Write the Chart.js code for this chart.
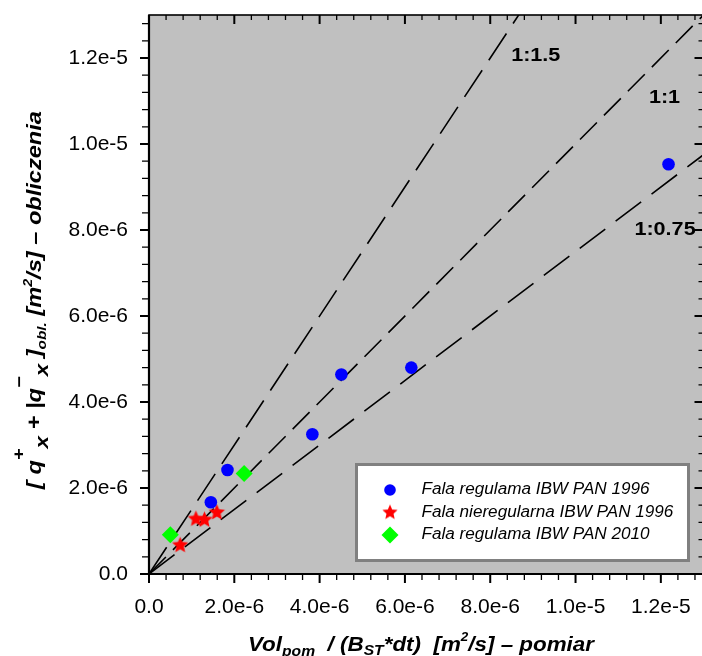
<!DOCTYPE html>
<html><head><meta charset="utf-8">
<script src="https://cdn.jsdelivr.net/npm/chart.js@4/dist/chart.umd.min.js"></script>
<style>
html,body{margin:0;padding:0;background:#fff;overflow:hidden;width:702px;height:656px;}
#wrap{position:absolute;left:0;top:0;width:712px;height:656px;}
canvas{display:block;}
</style></head><body>
<div id="wrap"><canvas id="c" width="712" height="656"></canvas></div>
<script>
// ---------- data ----------
const xTickLabels = ['0.0','2.0e-6','4.0e-6','6.0e-6','8.0e-6','1.0e-5','1.2e-5'];
const yTickLabels = ['0.0','2.0e-6','4.0e-6','6.0e-6','8.0e-6','1.0e-5','1.2e-5'];
const seriesNames = ['Fala regulama IBW PAN 1996','Fala nieregularna IBW PAN 1996','Fala regulama IBW PAN 2010'];
const regular1996X = [1.45e-6, 1.84e-6, 3.83e-6, 4.51e-6, 6.15e-6, 1.218e-5];
const regular1996Y = [1.67e-6, 2.42e-6, 3.25e-6, 4.64e-6, 4.80e-6, 9.53e-6];
const irregular1996X = [0.73e-6, 1.10e-6, 1.30e-6, 1.59e-6];
const irregular1996Y = [0.67e-6, 1.28e-6, 1.26e-6, 1.43e-6];
const regular2010X = [0.50e-6, 2.23e-6];
const regular2010Y = [0.91e-6, 2.34e-6];
const refLineNames = ['1:1.5','1:1','1:0.75'];
const refLineEndX = [1.3e-5, 1.3e-5, 1.3e-5];
const refLineEndY = [1.95e-5, 1.3e-5, 0.975e-5];
const refLabelX = [8.49e-6, 11.72e-6, 11.38e-6];
const refLabelY = [11.93e-6, 10.96e-6, 7.88e-6];

const FONT = '"Liberation Sans", Arial, sans-serif';
const pts = (xs, ys) => xs.map((x, i) => ({x, y: ys[i]}));

// star marker
function makeStar(R, color) {
  const s = Math.ceil(R * 2 + 2);
  const c = document.createElement('canvas');
  c.width = s; c.height = s;
  const g = c.getContext('2d');
  const cx = s / 2, cy = s / 2, r = R * 0.46;
  g.beginPath();
  for (let k = 0; k < 10; k++) {
    const a = -Math.PI / 2 + k * Math.PI / 5;
    const rr = k % 2 === 0 ? R : r;
    const px = cx + rr * Math.cos(a), py = cy + rr * Math.sin(a);
    k === 0 ? g.moveTo(px, py) : g.lineTo(px, py);
  }
  g.closePath();
  g.fillStyle = color; g.fill();
  return c;
}
const starImg = makeStar(8.5, '#FF0000');
const starLegend = makeStar(8, '#FF0000');

const dashes = [[32, 12], [24, 10], [32, 13]];

const datasets = [
  {label: seriesNames[0], data: pts(regular1996X, regular1996Y), showLine: false,
   pointStyle: 'circle', pointRadius: 6.3, pointBackgroundColor: '#0000FF', pointBorderWidth: 0, pointBorderColor: '#0000FF'},
  {label: seriesNames[1], data: pts(irregular1996X, irregular1996Y), showLine: false,
   pointStyle: starImg, pointRadius: 8, pointBackgroundColor: '#FF0000', pointBorderWidth: 0},
  {label: seriesNames[2], data: pts(regular2010X, regular2010Y), showLine: false,
   pointStyle: 'rectRot', pointRadius: 8.5, pointBackgroundColor: '#00FF00', pointBorderWidth: 0, pointBorderColor: '#00FF00'},
];
refLineNames.forEach((n, i) => {
  datasets.push({label: n, data: [{x: 0, y: 0}, {x: refLineEndX[i], y: refLineEndY[i]}],
    showLine: true, borderColor: '#000', borderWidth: 1.6, borderDash: dashes[i],
    pointRadius: 0, fill: false, tension: 0});
});

// ---------- plugins ----------
const bgPlugin = {
  id: 'bg',
  beforeDraw(chart) {
    const {ctx, chartArea: a} = chart;
    ctx.save();
    ctx.fillStyle = '#fff';
    ctx.fillRect(0, 0, chart.width, chart.height);
    ctx.fillStyle = '#C0C0C0';
    ctx.fillRect(a.left, a.top, a.right - a.left, a.bottom - a.top);
    ctx.restore();
  }
};

const framePlugin = {
  id: 'frame',
  afterDatasetsDraw(chart) {
    const {ctx, chartArea: a, scales} = chart;
    const xs = scales.x, ys = scales.y;
    ctx.save();
    ctx.strokeStyle = '#000';
    ctx.lineCap = 'butt';
    for (let k = 0; k <= 32; k++) {
      const v = k * 0.4e-6;
      const major = k % 5 === 0;
      ctx.lineWidth = major ? 2 : 1.3;
      const px = xs.getPixelForValue(v);
      const py = ys.getPixelForValue(v);
      ctx.beginPath();
      ctx.moveTo(px, a.bottom); ctx.lineTo(px, a.bottom + (major ? 9 : 6));
      ctx.moveTo(px, a.top); ctx.lineTo(px, a.top + (major ? 9 : 5));
      ctx.moveTo(a.left - (major ? 9 : 7), py); ctx.lineTo(a.left, py);
      ctx.moveTo(a.right - (major ? 9 : 5), py); ctx.lineTo(a.right, py);
      ctx.stroke();
    }
    ctx.lineWidth = 1.6;
    ctx.strokeRect(a.left, a.top, a.right - a.left, a.bottom - a.top);
    ctx.lineWidth = 2.2;
    ctx.beginPath();
    ctx.moveTo(a.left, a.top); ctx.lineTo(a.left, a.bottom); ctx.lineTo(a.right, a.bottom);
    ctx.stroke();

    ctx.fillStyle = '#000';
    ctx.font = 'bold 18px ' + FONT;
    ctx.textBaseline = 'alphabetic';
    ctx.textAlign = 'left';
    refLineNames.forEach((n, i) => {
      const lx = xs.getPixelForValue(refLabelX[i]);
      const ly = ys.getPixelForValue(refLabelY[i]);
      ctx.save();
      ctx.translate(lx, ly);
      ctx.scale(1.2, 1);
      ctx.fillText(n, 0, 0);
      ctx.restore();
    });
    ctx.restore();
  }
};

function drawRuns(ctx, runs, style, scaleX) {
  let total = 0;
  const ws = runs.map(r => {
    ctx.font = style + ' ' + r.s + 'px ' + FONT;
    const w = ctx.measureText(r.t).width;
    total += w;
    return w;
  });
  ctx.save();
  ctx.scale(scaleX, 1);
  let x = -total / 2;
  runs.forEach((r, i) => {
    ctx.font = style + ' ' + r.s + 'px ' + FONT;
    ctx.fillText(r.t, x, r.dy);
    x += ws[i];
  });
  ctx.restore();
}

const titlePlugin = {
  id: 'titles',
  afterDraw(chart) {
    const {ctx} = chart;
    ctx.save();
    ctx.fillStyle = '#000';
    ctx.textAlign = 'left';
    ctx.textBaseline = 'alphabetic';
    ctx.save();
    ctx.translate(421, 651);
    drawRuns(ctx, [
      {t: 'Vol', s: 20, dy: 0}, {t: 'pom', s: 14, dy: 5},
      {t: '  / (B', s: 20, dy: 0}, {t: 'ST', s: 14, dy: 4},
      {t: '*dt)  [m', s: 20, dy: 0}, {t: '2', s: 12, dy: -10},
      {t: '/s] – pomiar', s: 20, dy: 0}
    ], 'italic bold', 1.12);
    ctx.restore();
    ctx.save();
    ctx.translate(41, 300);
    ctx.rotate(-Math.PI / 2);
    drawRuns(ctx, [
      {t: '[ q', s: 20, dy: 0}, {t: '+', s: 17, dy: -17},
      {t: 'x', s: 19, dy: 7}, {t: ' + |q', s: 20, dy: 0},
      {t: '\u2212', s: 17, dy: -16}, {t: 'x', s: 19, dy: 7},
      {t: ' ]', s: 20, dy: 0}, {t: 'obl.', s: 13, dy: 5},
      {t: ' [m', s: 20, dy: 0}, {t: '2', s: 12, dy: -9},
      {t: '/s] – obliczenia', s: 20, dy: 0}
    ], 'italic bold', 1.18);
    ctx.restore();
    ctx.restore();
  }
};

const legendPlugin = {
  id: 'boxLegend',
  afterDraw(chart) {
    const {ctx} = chart;
    const bx = 355, by = 463, bw = 335, bh = 99;
    ctx.save();
    ctx.fillStyle = '#fff';
    ctx.fillRect(bx, by, bw, bh);
    ctx.strokeStyle = '#808080';
    ctx.lineWidth = 3;
    ctx.strokeRect(bx + 1.5, by + 1.5, bw - 3, bh - 3);
    const rowsY = [490, 512.5, 535];
    const mx = 390;
    ctx.fillStyle = '#0000FF';
    ctx.beginPath(); ctx.arc(mx, rowsY[0], 5.8, 0, Math.PI * 2); ctx.fill();
    ctx.drawImage(starLegend, mx - starLegend.width / 2, rowsY[1] - starLegend.height / 2);
    ctx.fillStyle = '#00FF00';
    ctx.beginPath();
    ctx.moveTo(mx - 8.5, rowsY[2]); ctx.lineTo(mx, rowsY[2] - 8.5);
    ctx.lineTo(mx + 8.5, rowsY[2]); ctx.lineTo(mx, rowsY[2] + 8.5);
    ctx.closePath(); ctx.fill();
    ctx.fillStyle = '#000';
    ctx.font = 'italic 16px ' + FONT;
    ctx.textAlign = 'left';
    ctx.textBaseline = 'middle';
    seriesNames.forEach((n, i) => {
      ctx.save();
      ctx.translate(421.5, rowsY[i]);
      ctx.scale(1.07, 1);
      ctx.fillText(n, 0, 0);
      ctx.restore();
    });
    ctx.restore();
  }
};

const tickFont = {family: FONT, size: 21};
const noPad = s => { s.paddingTop = 0; s.paddingBottom = 0; s.paddingLeft = 0; s.paddingRight = 0; };

new Chart(document.getElementById('c'), {
  type: 'scatter',
  data: {datasets},
  options: {
    responsive: false,
    animation: false,
    devicePixelRatio: 1,
    events: [],
    layout: {padding: {top: 15, right: 6, left: 0, bottom: 0}},
    plugins: {legend: {display: false}, tooltip: {enabled: false}},
    scales: {
      x: {
        type: 'linear', min: 0, max: 1.3e-5,
        grid: {display: false, drawTicks: false},
        border: {display: false},
        ticks: {
          stepSize: 2e-6, includeBounds: false, autoSkip: false, maxRotation: 0, minRotation: 0,
          padding: 21, color: '#000', font: tickFont,
          callback: v => { const i = Math.round(v / 2e-6); return xTickLabels[i] ?? ''; }
        },
        afterFit: s => { s.height = 82; noPad(s); }
      },
      y: {
        type: 'linear', min: 0, max: 1.3e-5,
        grid: {display: false, drawTicks: false},
        border: {display: false},
        ticks: {
          stepSize: 2e-6, includeBounds: false, autoSkip: false,
          padding: 21, color: '#000', font: tickFont,
          callback: v => { const i = Math.round(v / 2e-6); return yTickLabels[i] ?? ''; }
        },
        afterFit: s => { s.width = 149; noPad(s); }
      }
    }
  },
  plugins: [bgPlugin, framePlugin, titlePlugin, legendPlugin]
});
</script>
</body></html>
